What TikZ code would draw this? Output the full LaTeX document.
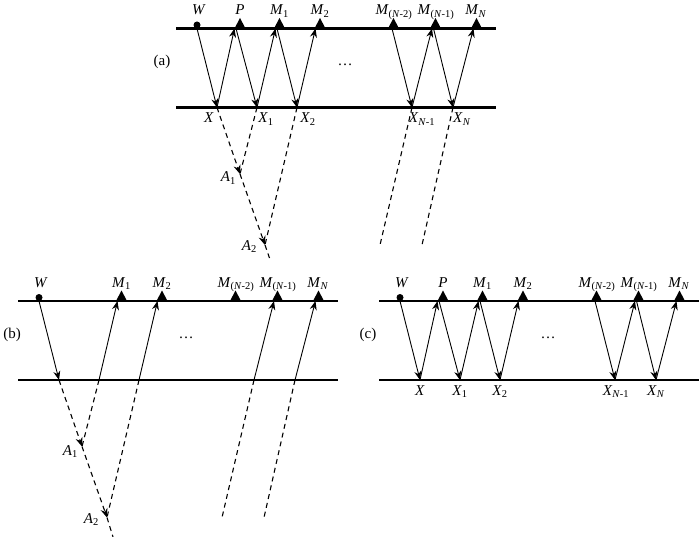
\documentclass[tikz,border=0pt]{standalone}
\usepackage{fontspec}
\setmainfont{Liberation Serif}
\usetikzlibrary{arrows.meta}
\newcommand{\lb}[2]{\textit{#1}\textsubscript{#2}}
\newcommand{\defpts}[1]{%
 \coordinate (#1TL) at (176,28.5);
 \coordinate (#1TR) at (496,28.5);
 \coordinate (#1BL) at (176,107.5);
 \coordinate (#1BR) at (496,107.5);
 \coordinate (#1W) at (197,28.5);
 \coordinate (#1P) at (240,28.5);
 \coordinate (#1Pi) at (234.5,28.5);
 \coordinate (#1Po) at (236,28.5);
 \coordinate (#1Ma) at (279.5,28.5);
 \coordinate (#1Mai) at (275.5,28.5);
 \coordinate (#1Mao) at (277,28.5);
 \coordinate (#1Mb) at (320,28.5);
 \coordinate (#1Mbi) at (315.5,28.5);
 \coordinate (#1Mc) at (393.5,28.5);
 \coordinate (#1Mco) at (392,28.5);
 \coordinate (#1Md) at (435.5,28.5);
 \coordinate (#1Mdi) at (432,28.5);
 \coordinate (#1Mdo) at (433.5,28.5);
 \coordinate (#1Me) at (476.5,28.5);
 \coordinate (#1Mei) at (473.5,28.5);
 \coordinate (#1X) at (217,107.5);
 \coordinate (#1Xa) at (257,107.5);
 \coordinate (#1Xb) at (297,107.5);
 \coordinate (#1Xc) at (412,107.5);
 \coordinate (#1Xd) at (453,107.5);
 \coordinate (#1Aa) at (240,174);
 \coordinate (#1Ab) at (265,245);
 \coordinate (#1Da) at (380,245);
 \coordinate (#1Db) at (422,245);
}
\tikzset{
 every node/.style={font=\fontsize{15}{17}\selectfont, inner sep=0pt},
 lbl/.style={anchor=base},
 hl/.style={line width=2.2pt},
 ar/.style={line width=0.9pt, -{Stealth[length=9pt,width=7pt,inset=3pt]}},
 ds/.style={line width=1.1pt, dash pattern=on 5pt off 4pt},
 dar/.style={-{Stealth[length=9pt,width=7pt,inset=3pt]}},
 tri/.pic={\fill (-5.5,0) -- (5.5,0) -- (0,-10.5) -- cycle;}
}
\begin{document}
\begin{tikzpicture}[x=1pt,y=-1pt]
\useasboundingbox (0,0) rectangle (700,537);
\begin{scope}
 \defpts{a}
 \coordinate (aE) at (269.5,258);
 \node[lbl] (aWl) at (199,15) {\textit{W}};
 \node[lbl] (aPl) at (240,15) {\textit{P}};
 \node[lbl] (aMal) at (279.5,15) {\lb{M}{1}};
 \node[lbl] (aMbl) at (320,15) {\lb{M}{2}};
 \node[lbl] (aMcl) at (394,15) {\lb{M}{(\textit{N}-2)}};
 \node[lbl] (aMdl) at (436,15) {\lb{M}{(\textit{N}-1)}};
 \node[lbl] (aMel) at (476,15) {\lb{M}{\textit{N}}};
 \node[lbl] (aXl) at (209,123) {\textit{X}};
 \node[lbl] (aXal) at (266,123) {\lb{X}{1}};
 \node[lbl] (aXbl) at (308,123) {\lb{X}{2}};
 \node[lbl] (aXcl) at (422,123) {\lb{X}{\textit{N}-1}};
 \node[lbl] (aXdl) at (462,123) {\lb{X}{\textit{N}}};
 \node[anchor=base east] (aAal) at (236,182) {\lb{A}{1}};
 \node[anchor=base east] (aAbl) at (257,250) {\lb{A}{2}};
 \node[lbl] (atag) at (162,66) {(a)};
 \node[lbl] (adots) at (345,66) {\dots};
\end{scope}
\begin{scope}[shift={(-158,272.5)}]
 \defpts{b}
 \coordinate (bE) at (271,264.5);
 \node[lbl] (bWl) at (199,15) {\textit{W}};
 \node[lbl] (bMal) at (279.5,15) {\lb{M}{1}};
 \node[lbl] (bMbl) at (320,15) {\lb{M}{2}};
 \node[lbl] (bMcl) at (394,15) {\lb{M}{(\textit{N}-2)}};
 \node[lbl] (bMdl) at (436,15) {\lb{M}{(\textit{N}-1)}};
 \node[lbl] (bMel) at (476,15) {\lb{M}{\textit{N}}};
 \node[anchor=base east] (bAal) at (236,183) {\lb{A}{1}};
 \node[anchor=base east] (bAbl) at (257,251) {\lb{A}{2}};
 \node[lbl] (btag) at (170,66) {(b)};
 \node[lbl] (bdots) at (344,66) {\dots};
\end{scope}
\begin{scope}[shift={(203,272.5)}]
 \defpts{c}
 \node[lbl] (cWl) at (199,15) {\textit{W}};
 \node[lbl] (cPl) at (240,15) {\textit{P}};
 \node[lbl] (cMal) at (279.5,15) {\lb{M}{1}};
 \node[lbl] (cMbl) at (320,15) {\lb{M}{2}};
 \node[lbl] (cMcl) at (394,15) {\lb{M}{(\textit{N}-2)}};
 \node[lbl] (cMdl) at (436,15) {\lb{M}{(\textit{N}-1)}};
 \node[lbl] (cMel) at (476,15) {\lb{M}{\textit{N}}};
 \node[lbl] (cXl) at (217,123) {\textit{X}};
 \node[lbl] (cXal) at (257,123) {\lb{X}{1}};
 \node[lbl] (cXbl) at (297,123) {\lb{X}{2}};
 \node[lbl] (cXcl) at (413,123) {\lb{X}{\textit{N}-1}};
 \node[lbl] (cXdl) at (453,123) {\lb{X}{\textit{N}}};
 \node[lbl] (ctag) at (165,66) {(c)};
 \node[lbl] (cdots) at (345,66) {\dots};
\end{scope}
% panel (a)
\draw[hl] (aTL) -- (aTR);
\draw[hl] (aBL) -- (aBR);
\fill (aW) ++(0,-3.5) circle[radius=3.5pt];
\foreach \p in {aP,aMa,aMb,aMc,aMd,aMe} \pic at (\p) {tri};
\draw[ar] (aW) -- (aX);
\draw[ar] (aX) -- (aPi);
\draw[ar] (aPo) -- (aXa);
\draw[ar] (aXa) -- (aMai);
\draw[ar] (aMao) -- (aXb);
\draw[ar] (aXb) -- (aMbi);
\draw[ar] (aMco) -- (aXc);
\draw[ar] (aXc) -- (aMdi);
\draw[ar] (aMdo) -- (aXd);
\draw[ar] (aXd) -- (aMei);
\draw[ds,dar] (aX) -- (aAa);
\draw[ds,dar] (aAa) -- (aAb);
\draw[ds] (aAb) -- (aE);
\draw[ds] (aXa) -- (aAa);
\draw[ds] (aXb) -- (aAb);
\draw[ds] (aXc) -- (aDa);
\draw[ds] (aXd) -- (aDb);
% panel (b)
\draw[hl] (bTL) -- (bTR);
\draw[hl] (bBL) -- (bBR);
\fill (bW) ++(0,-3.5) circle[radius=3.5pt];
\foreach \p in {bMa,bMb,bMc,bMd,bMe} \pic at (\p) {tri};
\draw[ar] (bW) -- (bX);
\draw[ar] (bXa) -- (bMai);
\draw[ar] (bXb) -- (bMbi);
\draw[ar] (bXc) -- (bMdi);
\draw[ar] (bXd) -- (bMei);
\draw[ds,dar] (bX) -- (bAa);
\draw[ds,dar] (bAa) -- (bAb);
\draw[ds] (bAb) -- (bE);
\draw[ds] (bXa) -- (bAa);
\draw[ds] (bXb) -- (bAb);
\draw[ds] (bXc) -- (bDa);
\draw[ds] (bXd) -- (bDb);
% panel (c)
\draw[hl] (cTL) -- (cTR);
\draw[hl] (cBL) -- (cBR);
\fill (cW) ++(0,-3.5) circle[radius=3.5pt];
\foreach \p in {cP,cMa,cMb,cMc,cMd,cMe} \pic at (\p) {tri};
\draw[ar] (cW) -- (cX);
\draw[ar] (cX) -- (cPi);
\draw[ar] (cPo) -- (cXa);
\draw[ar] (cXa) -- (cMai);
\draw[ar] (cMao) -- (cXb);
\draw[ar] (cXb) -- (cMbi);
\draw[ar] (cMco) -- (cXc);
\draw[ar] (cXc) -- (cMdi);
\draw[ar] (cMdo) -- (cXd);
\draw[ar] (cXd) -- (cMei);
\end{tikzpicture}
\end{document}
